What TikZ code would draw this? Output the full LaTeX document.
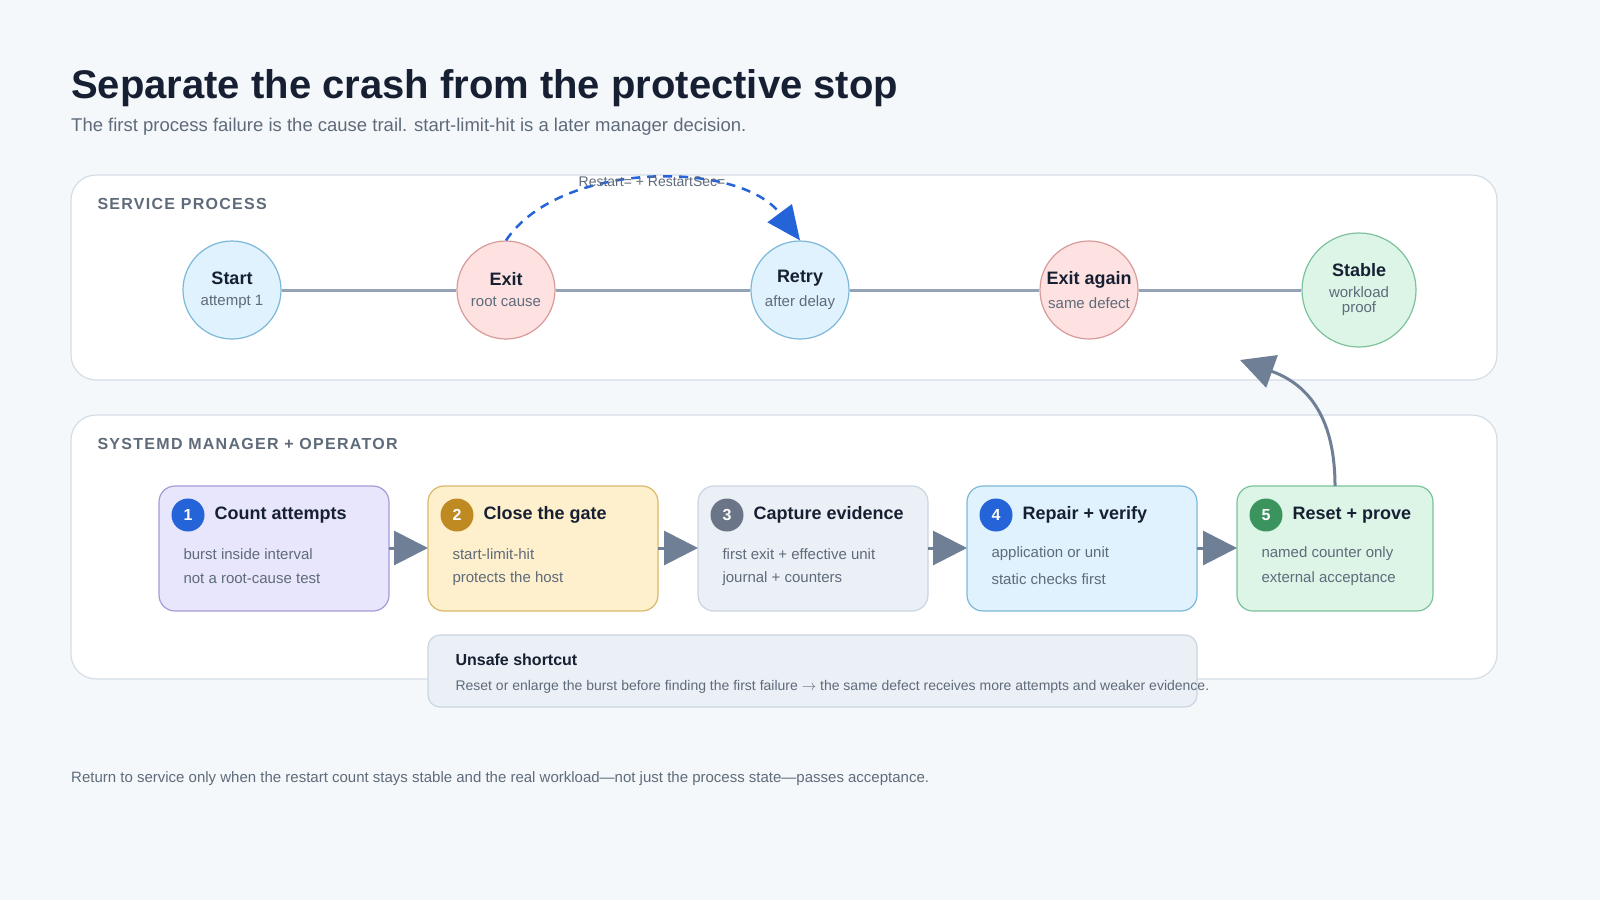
\documentclass[tikz,border=0pt]{standalone}
\usepackage{fontspec}
\setmainfont{Liberation Sans}
\usetikzlibrary{arrows.meta, positioning}
\definecolor{bgc}{HTML}{F5F8FB}
\definecolor{ink}{HTML}{172033}
\definecolor{muted}{HTML}{5F6B7A}
\definecolor{rail}{HTML}{94A3B8}
\definecolor{pline}{HTML}{D5DDE6}
\definecolor{flow}{HTML}{6F7F96}
\definecolor{dashc}{HTML}{2563D8}
\definecolor{bluef}{HTML}{E0F2FE}\definecolor{blued}{HTML}{7DB8D8}
\definecolor{redf}{HTML}{FEE2E2}\definecolor{redd}{HTML}{D99A9A}
\definecolor{greenf}{HTML}{DCF5E7}\definecolor{greend}{HTML}{7CC29A}
\definecolor{purf}{HTML}{E8E6FC}\definecolor{purd}{HTML}{A59BD8}
\definecolor{yelf}{HTML}{FEF0CC}\definecolor{yeld}{HTML}{DCB86A}
\definecolor{grayf}{HTML}{EBF0F6}\definecolor{grayd}{HTML}{CBD5E1}
\definecolor{bblue}{HTML}{2563D8}\definecolor{bgold}{HTML}{C08A22}
\definecolor{bgray}{HTML}{6B7588}\definecolor{bgreen}{HTML}{3B945E}
\newcommand{\fs}[1]{\fontsize{#1}{#1}\selectfont}
\tikzset{
  panel/.style={draw=pline, line width=1.2pt, fill=white, rounded corners=25pt},
  state/.style={circle, draw=#1d, fill=#1f, line width=1.2pt, minimum size=98pt, inner sep=0pt, align=center},
  card/.style={draw=#1d, fill=#1f, line width=1.2pt, rounded corners=16pt},
  badge/.style={circle, fill=#1, text=white, minimum size=33pt, inner sep=0pt, font=\fs{16}\bfseries},
  ctitle/.style={anchor=west, text=ink, font=\fs{18}\bfseries},
  cline/.style={anchor=west, text=muted, font=\fs{15}},
  flowarrow/.style={draw=flow, line width=3pt, -{Triangle[length=34pt, width=34pt]}},
  seclabel/.style={anchor=west, text=muted, font=\fs{16}\bfseries\addfontfeature{LetterSpace=8}},
}
\begin{document}
\begin{tikzpicture}[x=1pt, y=-1pt]
\fill[bgc] (0,0) rectangle (1600,900);
% heading
\node[anchor=base west, text=ink, font=\fs{40}\bfseries, inner sep=0pt] (title) at (71,98) {Separate the crash from the protective stop};
\node[anchor=base west, text=muted, font=\fs{18.5}, inner sep=0pt] (subtitle) at (71,131) {The first process failure is the cause trail. start-limit-hit is a later manager decision.};
% service process
\draw[panel] (71,175) rectangle (1497,380);
\node[seclabel] (sec1) at (94,204) {SERVICE PROCESS};
\node[state=blue] (start) at (232,290) {\fs{18}\bfseries\color{ink}Start\\[9pt]\fs{15}\color{muted}attempt 1};
\node[state=red] (exit) at (506,290) {\fs{18}\bfseries\color{ink}Exit\\[9pt]\fs{15}\color{muted}root cause};
\node[state=blue] (retry) at (800,290) {\fs{18}\bfseries\color{ink}Retry\\[9pt]\fs{15}\color{muted}after delay};
\node[state=red] (again) at (1089,290) {\fs{18}\bfseries\color{ink}Exit again\\[9pt]\fs{15}\color{muted}same defect};
\node[state=green, minimum size=114pt] (stable) at (1359,290) {\fs{18}\bfseries\color{ink}Stable\\[9pt]\fs{15}\color{muted}workload\\[3pt]\fs{15}\color{muted}proof};
\foreach \a/\b in {start/exit, exit/retry, retry/again, again/stable}
  \draw[rail, line width=3pt] (\a) -- (\b);
\draw[dashc, line width=2.5pt, dash pattern=on 9pt off 7pt, -{Triangle[length=34pt, width=30pt]}]
  (exit.north) .. controls (560,160) and (740,160) .. (retry.north);
\node[text=muted, font=\fs{14}] (restart) at (652,182) {Restart= + RestartSec=};
% manager + operator
\draw[panel] (71,415) rectangle (1497,679);
\node[seclabel] (sec2) at (94,444) {SYSTEMD MANAGER + OPERATOR};
\foreach \n/\x/\w/\c/\bc/\t/\la/\lb in {
  1/159/230/pur/bblue/Count attempts/burst inside interval/not a root-cause test,
  2/428/230/yel/bgold/Close the gate/start-limit-hit/protects the host,
  3/698/230/gray/bgray/Capture evidence/first exit + effective unit/journal + counters,
  4/967/230/blue/bblue/Repair + verify/application or unit/static checks first,
  5/1237/196/green/bgreen/Reset + prove/named counter only/external acceptance}{
  \draw[card=\c] (\x,486) rectangle ++(\w,125);
  \coordinate (cw\n) at (\x,548);
  \coordinate (ce\n) at (\x+\w,548);
  \coordinate (ct\n) at (\x+\w/2,486);
  \node[badge=\bc] (b\n) at (\x+29,515) {\n};
  \node[ctitle] at (\x+52,515) {\t};
  \node[cline] at (\x+21,554) {\la};
  \node[cline] at (\x+21,579) {\lb};
}
\foreach \a/\b in {1/2, 2/3, 3/4, 4/5}
  \draw[flowarrow] (ce\a) -- (cw\b);
\coordinate (loop) at (1240,360);
\draw[flowarrow] (ct5) .. controls (1335,420) and (1310,385) .. (loop);
% shortcut
\draw[card=gray, rounded corners=12pt] (428,635) rectangle (1197,707);
\node[anchor=west, text=ink, font=\fs{16}\bfseries] (unsafe) at (452,660) {Unsafe shortcut};
\node[anchor=west, text=muted, font=\fs{14}] (unsafetxt) at (452,687) {Reset or enlarge the burst before finding the first failure $\rightarrow$ the same defect receives more attempts and weaker evidence.};
% footer
\node[anchor=west, text=muted, font=\fs{15}, inner sep=0pt] (footer) at (71,779) {Return to service only when the restart count stays stable and the real workload—not just the process state—passes acceptance.};
\pgfresetboundingbox
\useasboundingbox (0,0) rectangle (1600,900);
\end{tikzpicture}
\end{document}
